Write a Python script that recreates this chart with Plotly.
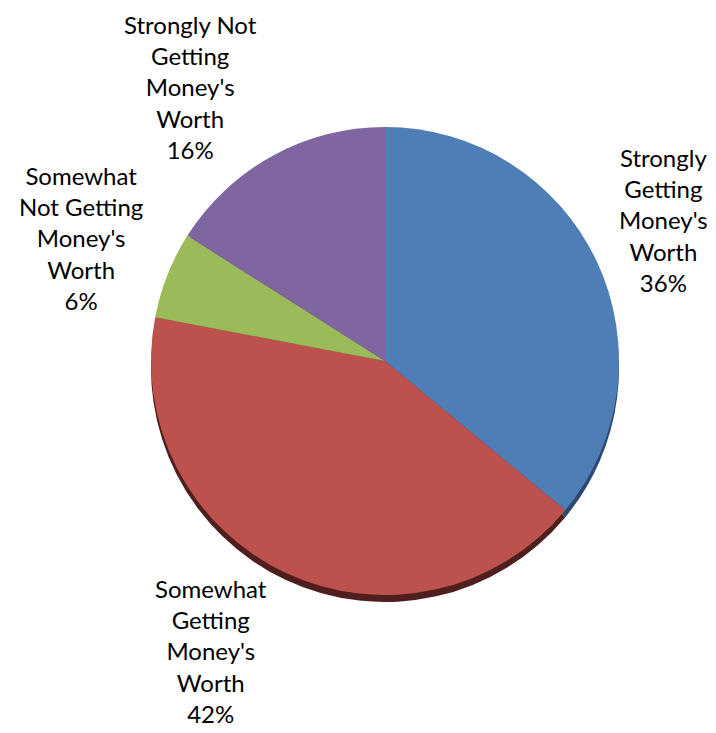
import plotly.graph_objects as go

categories = ["Strongly Getting Money's Worth", "Somewhat Getting Money's Worth",
              "Somewhat Not Getting Money's Worth", "Strongly Not Getting Money's Worth"]
display_labels = ["Strongly<br>Getting<br>Money's<br>Worth", "Somewhat<br>Getting<br>Money's<br>Worth",
                  "Somewhat<br>Not Getting<br>Money's<br>Worth", "Strongly Not<br>Getting<br>Money's<br>Worth"]
values = [36, 42, 6, 16]
colors = ["#4F7EB6", "#BC514E", "#9BBA5A", "#8066A0"]
rim_colors = ["#2C4A70", "#4F1E1E", "#5C7233", "#4A3B60"]

OFF = 8  # default page body margin
W, H = 716 - OFF, 733 - OFF
cx, cy, r = 385 - OFF, 361 - OFF, 234
depth = 7

# label block centres in page pixels
label_pos = [(663, 220), (211, 651), (81, 238), (191, 87)]


def dom(yshift=0):
    return dict(x=[(cx - r) / W, (cx + r) / W],
                y=[(H - cy - yshift - r) / H, (H - cy - yshift + r) / H])


fig = go.Figure()
# 3-D rim underneath
fig.add_trace(go.Pie(
    labels=categories, values=values, sort=False, direction="clockwise", rotation=0,
    marker=dict(colors=rim_colors, line=dict(width=0)),
    textinfo="none", hoverinfo="skip", showlegend=False, domain=dom(depth),
))
fig.add_trace(go.Pie(
    labels=categories, values=values, sort=False, direction="clockwise", rotation=0,
    marker=dict(colors=colors, line=dict(width=0)),
    textinfo="none", showlegend=False, domain=dom(0),
))

total = sum(values)
for lab, v, (px, py) in zip(display_labels, values, label_pos):
    fig.add_annotation(
        x=(px - OFF) / W, y=1 - (py - OFF) / H, xref="paper", yref="paper",
        text=f"{lab}<br>{round(100 * v / total)}%",
        showarrow=False, xanchor="center", yanchor="middle", align="center",
        font=dict(family="Lato", size=24, color="#000000"),
    )

fig.update_layout(
    width=W, height=H,
    margin=dict(l=0, r=0, t=0, b=0, autoexpand=False),
    paper_bgcolor="white",
    plot_bgcolor="white",
)
fig.write_html("out.html")
